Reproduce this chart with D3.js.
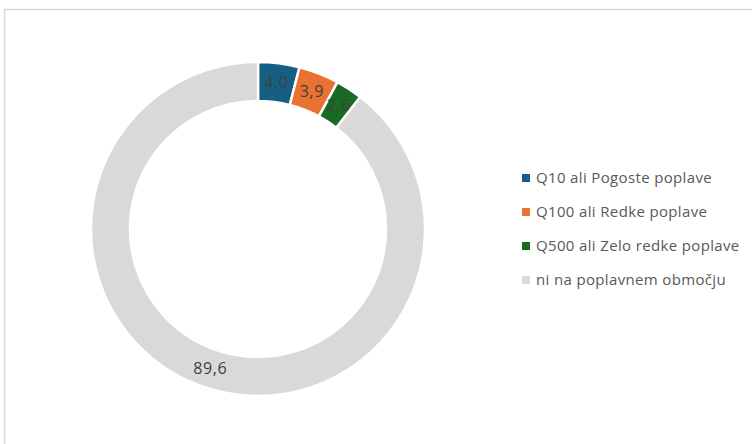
<!DOCTYPE html>
<html>
<head>
<meta charset="utf-8">
<script src="https://cdn.jsdelivr.net/npm/d3@7"></script>
<style>
  body { margin: 0; background: #fff; }
  svg { display: block; font-family: "Open Sans", sans-serif; }
</style>
</head>
<body>
<svg id="chart" width="752" height="444"></svg>
<script>
var categories = ["Q10 ali Pogoste poplave", "Q100 ali Redke poplave", "Q500 ali Zelo redke poplave", "ni na poplavnem območju"];
var values = [4.0, 3.9, 2.6, 89.6];
var colors = ["#156082", "#E97132", "#196B24", "#D9D9D9"];

var data = categories.map(function(c, i) { return {name: c, value: values[i], color: colors[i]}; });

var svg = d3.select("#chart"),
    cx = 258, cy = 229,
    outer = 167, inner = 128;

// chart area border (runs off the right and bottom edge)
svg.append("rect")
    .attr("x", 4.5).attr("y", 9.5)
    .attr("width", 800).attr("height", 500)
    .attr("fill", "none")
    .attr("stroke", "#d9d9d9")
    .attr("stroke-width", 1.5);

var pie = d3.pie().sort(null).value(function(d) { return d.value; });
var arc = d3.arc().innerRadius(inner).outerRadius(outer);
var labelArc = d3.arc().innerRadius((inner + outer) / 2).outerRadius((inner + outer) / 2);

var g = svg.append("g").attr("transform", "translate(" + cx + "," + cy + ")");

var slices = pie(data);

g.selectAll(".slice")
    .data(slices)
    .enter().append("path")
    .attr("class", "slice")
    .attr("d", arc)
    .attr("fill", function(d) { return d.data.color; })
    .attr("stroke", "#fff")
    .attr("stroke-width", 2.5);

var fmt = function(v) { return d3.format(".1f")(v).replace(".", ","); };

g.selectAll(".lbl")
    .data(slices)
    .enter().append("text")
    .attr("class", "lbl")
    .attr("transform", function(d) { return "translate(" + labelArc.centroid(d) + ")"; })
    .attr("text-anchor", "middle")
    .attr("dy", "0.35em")
    .attr("font-size", 16)
    .attr("letter-spacing", 0.6)
    .attr("fill", "#404040")
    .text(function(d) { return fmt(d.data.value); });

var legend = svg.append("g").attr("transform", "translate(520,178)");
var row = legend.selectAll(".row")
    .data(data)
    .enter().append("g")
    .attr("class", "row")
    .attr("transform", function(d, i) { return "translate(0," + (i * 34) + ")"; });

row.append("rect")
    .attr("x", 2).attr("y", -4)
    .attr("width", 8).attr("height", 8)
    .attr("fill", function(d) { return d.color; });

row.append("text")
    .attr("x", 16)
    .attr("dy", "0.35em")
    .attr("font-size", 15)
    .attr("letter-spacing", 0.35)
    .attr("fill", "#595959")
    .text(function(d) { return d.name; });
</script>
</body>
</html>
